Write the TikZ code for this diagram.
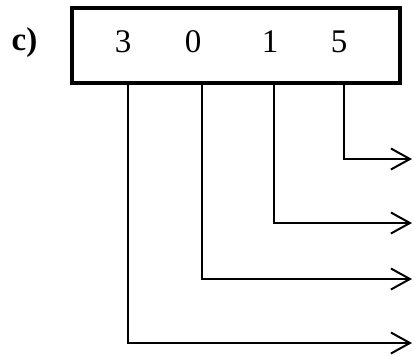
\documentclass[tikz,border=0pt]{standalone}
\usepackage{fontspec}
\setmainfont{Liberation Serif}
\usetikzlibrary{arrows.meta,positioning}

\begin{document}
\begin{tikzpicture}[x=1pt, y=-1pt,
  digit/.style={font=\fontsize{33}{35}\selectfont, inner sep=0pt},
  wire/.style={line width=2pt, -{Straight Barb[length=19pt,width=21pt,line width=2pt]}}
]
  \useasboundingbox (0,0) rectangle (414,356);
  % register box
  \node[draw, line width=3.5pt, inner sep=0pt, minimum width=328pt, minimum height=75pt] (reg) at (236,45.5) {};
  \node[digit, font=\fontsize{33}{35}\selectfont\bfseries] (lbl) at (24.5,43) {c)};
  \node[digit] (d3) at (123,42) {3};
  \node[digit] (d0) at (193,42) {0};
  \node[digit] (d1) at (270,42) {1};
  \node[digit] (d5) at (339,42) {5};
  % outputs
  \coordinate (o3) at (412,343);
  \coordinate (o0) at (412,279);
  \coordinate (o1) at (412,223);
  \coordinate (o5) at (412,159);
  \draw[wire] (reg.south -| 128,0) |- (o3);
  \draw[wire] (reg.south -| 202,0) |- (o0);
  \draw[wire] (reg.south -| 274,0) |- (o1);
  \draw[wire] (reg.south -| 344,0) |- (o5);
\end{tikzpicture}
\end{document}
